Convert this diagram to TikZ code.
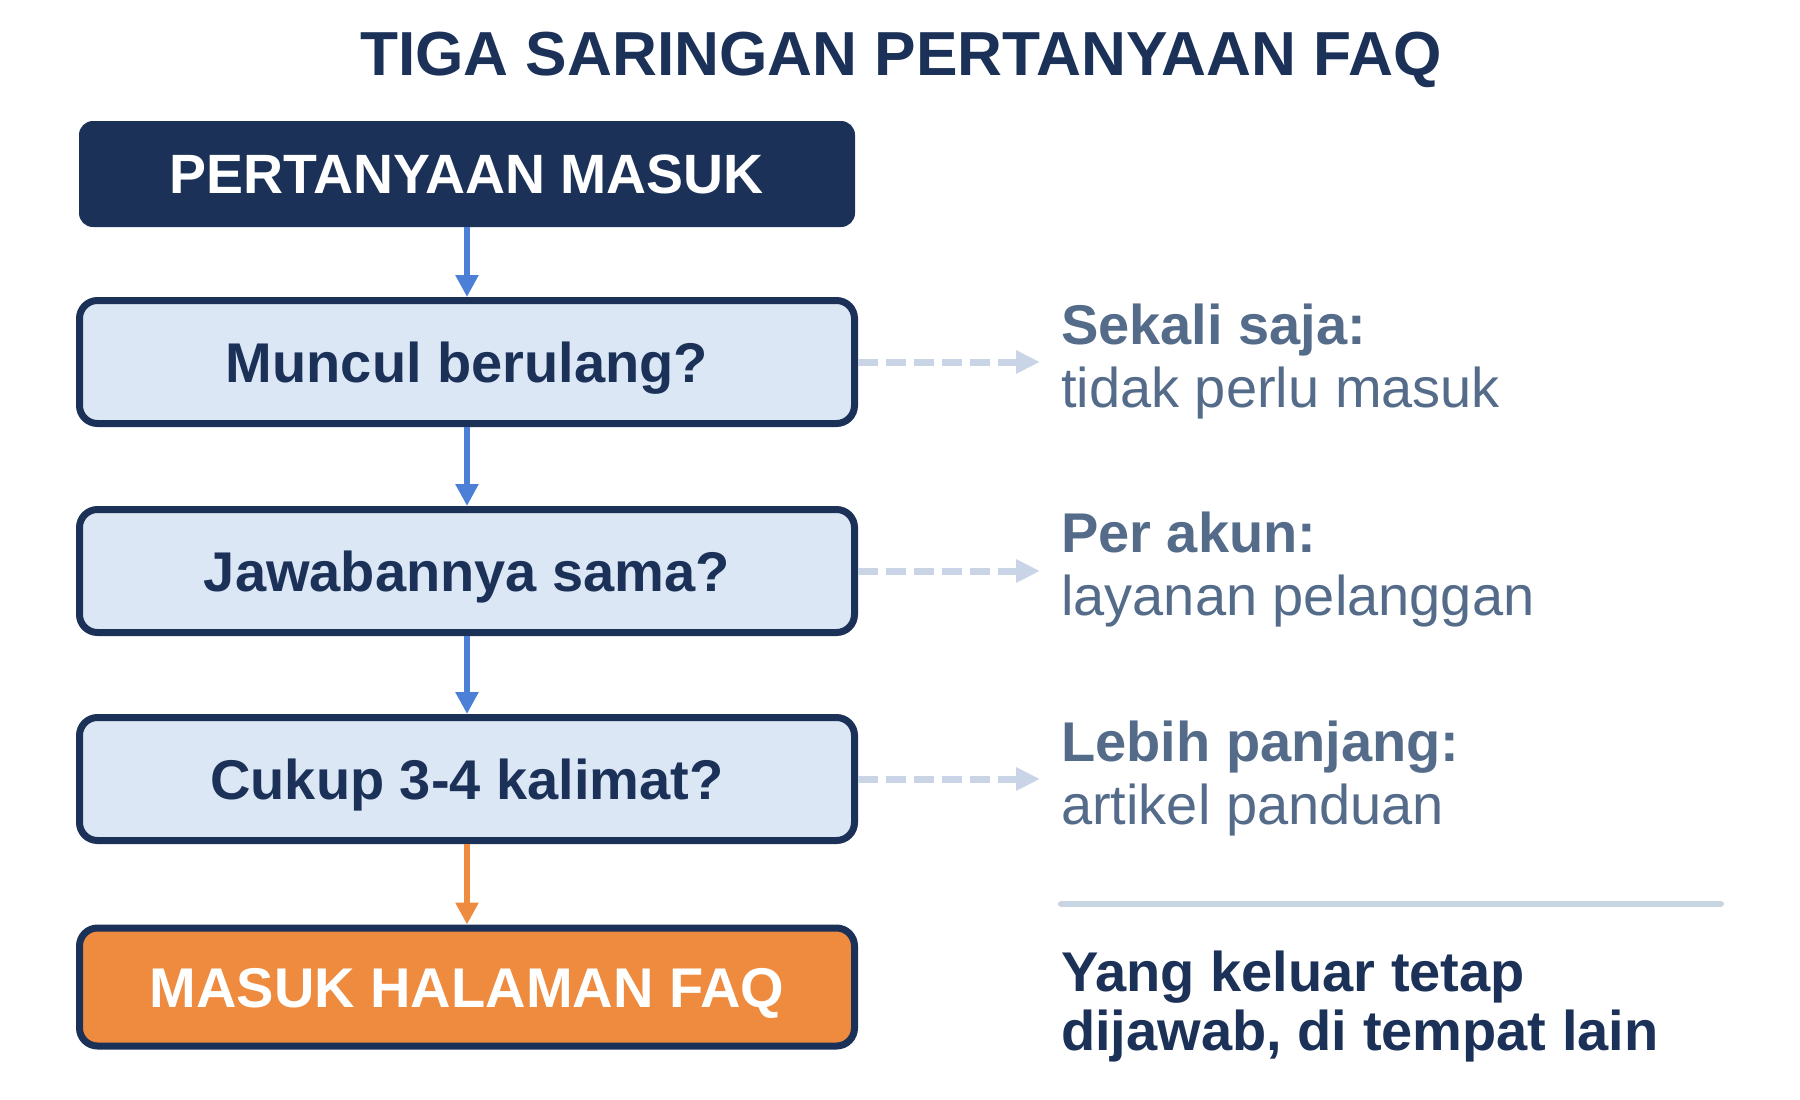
\documentclass[tikz,border=0pt]{standalone}
\usepackage{fontspec}
\setmainfont{Liberation Sans}
\usetikzlibrary{arrows.meta}
\definecolor{navy}{HTML}{1B3158}
\definecolor{lightfill}{HTML}{DCE7F6}
\definecolor{orangefill}{HTML}{EE8B3E}
\definecolor{arrowblue}{HTML}{4C80D6}
\definecolor{arroworange}{HTML}{EE8B3E}
\definecolor{dashcol}{HTML}{C9D5E6}
\definecolor{slate}{HTML}{546C8A}
\definecolor{sepcol}{HTML}{CAD5E2}
\tikzset{
  titletext/.style={anchor=base, inner sep=0pt, text=navy, font=\bfseries\fontsize{62.2}{66}\selectfont},
  topbox/.style={fill=navy, rounded corners=14pt, minimum width=776pt, minimum height=106pt,
    inner sep=0pt, text height=39pt, text depth=0pt, text=white, font=\bfseries\fontsize{55.4}{60}\selectfont},
  qbox/.style={draw=navy, line width=7pt, fill=lightfill, rounded corners=18pt, minimum width=775pt,
    minimum height=123pt, inner sep=0pt, text height=40pt, text depth=0pt, text=navy,
    font=\bfseries\fontsize{56}{62}\selectfont},
  endbox/.style={qbox, fill=orangefill, text=white, minimum height=118pt},
  varrow/.style={draw=arrowblue, line width=6pt, -{Triangle[length=22pt,width=22pt]}},
  oarrow/.style={varrow, draw=arroworange},
  darrow/.style={draw=dashcol, line width=7pt, dash pattern=on 20pt off 8pt, -{Triangle[length=24pt,width=22pt]}},
  headtext/.style={anchor=base west, inner sep=0pt, text=slate, font=\bfseries\fontsize{56}{62}\selectfont},
  subtext/.style={anchor=base west, inner sep=0pt, text=slate, font=\fontsize{56}{62}\selectfont},
  notetext/.style={anchor=base west, inner sep=0pt, text=navy, font=\bfseries\fontsize{56}{62}\selectfont},
  sepline/.style={draw=sepcol, line width=6pt, line cap=round}
}
\begin{document}
\begin{tikzpicture}[x=1pt,y=-1pt]
\useasboundingbox (0,0) rectangle (1800,1100);
\fill[white] (0,0) rectangle (1800,1100);

\node[titletext] (title) at (901,75) {TIGA SARINGAN PERTANYAAN FAQ};

\node[topbox] (b0) at (467,174) {PERTANYAAN MASUK};
\node[qbox] (b1) at (467,362) {Muncul berulang?};
\node[qbox] (b2) at (467,571) {Jawabannya sama?};
\node[qbox] (b3) at (467,779) {Cukup 3-4 kalimat?};
\node[endbox] (b4) at (467,987) {MASUK HALAMAN FAQ};

\draw[varrow] (b0.south) -- (b1.north);
\draw[varrow] (b1.south) -- (b2.north);
\draw[varrow] (b2.south) -- (b3.north);
\draw[oarrow] (b3.south) -- (b4.north);

\coordinate (t1) at (1040,362);
\coordinate (t2) at (1040,571);
\coordinate (t3) at (1040,779);
\draw[darrow] (b1.east) -- (t1);
\draw[darrow] (b2.east) -- (t2);
\draw[darrow] (b3.east) -- (t3);

\node[headtext] (h1) at (1061,344) {Sekali saja:};
\node[subtext] (s1) at (1061,407) {tidak perlu masuk};
\node[headtext] (h2) at (1061,552) {Per akun:};
\node[subtext] (s2) at (1061,615) {layanan pelanggan};
\node[headtext] (h3) at (1061,761) {Lebih panjang:};
\node[subtext] (s3) at (1061,824) {artikel panduan};

\coordinate (sepL) at (1061,904);
\coordinate (sepR) at (1721,904);
\draw[sepline] (sepL) -- (sepR);

\node[notetext] (n1) at (1061,991) {Yang keluar tetap};
\node[notetext] (n2) at (1061,1050) {dijawab, di tempat lain};
\end{tikzpicture}
\end{document}
